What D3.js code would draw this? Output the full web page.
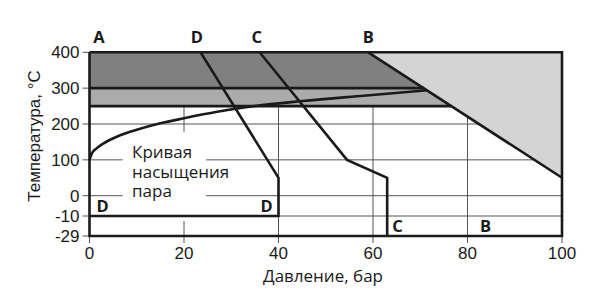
<!DOCTYPE html>
<html>
<head>
<meta charset="utf-8">
<script src="https://cdn.jsdelivr.net/npm/d3@7"></script>
<style>
  body { margin: 0; background: #fff; }
  svg { display: block; }
  .tick-label { font-family: "Liberation Sans", Arial, sans-serif; font-size: 17px; fill: #1a1a1a; }
  .axis-title { font-family: "Open Sans", sans-serif; font-size: 17px; fill: #1a1a1a; }
  .zone-label { font-family: "Open Sans", sans-serif; font-size: 16.5px; font-weight: 700; fill: #1a1a1a; }
  .note { font-family: "Open Sans", sans-serif; font-size: 17px; fill: #1a1a1a; }
</style>
</head>
<body>
<svg id="chart" width="600" height="298"></svg>
<script>
/* Tick values */
var xTicks = [0, 20, 40, 60, 80, 100];
var yTicks = [-29, -10, 0, 100, 200, 300, 400];

/* Boundary lines, pressure (bar) and temperature (C) */
var lineB_p = [59, 100];
var lineB_t = [400, 50];
var lineC_p = [36, 54.5, 63, 63];
var lineC_t = [400, 100, 50, -29];
var lineD_p = [23.5, 40, 40, 0];
var lineD_t = [400, 50, -10, -10];

/* Saturated steam curve */
var satP = [0, 0.5, 1.5, 3, 6, 10, 15, 20, 27, 35, 45, 58, 71.5];
var satT = [100, 118, 132, 146, 166, 184, 202, 216, 234, 250, 264, 279, 294];

/* Zone labels, placed in data units */
var zoneNames = ["A", "D", "C", "B", "D", "D", "C", "B"];
var zoneP = [2, 22.7, 35.4, 59, 2.8, 37.5, 65.2, 83.8];
var zoneT = [400, 400, 400, 400, -10, -10, -29, -29];

var noteLines = ["Кривая", "насыщения", "пара"];

var svg = d3.select("#chart");

var x = d3.scaleLinear().domain([0, 100]).range([89.5, 562]);
// the temperature axis is stretched below zero
var y = d3.scaleLinear().domain([-29, -10, 0, 400]).range([236, 216, 195.7, 52.3]);

function pts(ps, ts) {
    return ps.map(function(p, i) { return [p, ts[i]]; });
}
var line = d3.line()
    .x(function(d) { return x(d[0]); })
    .y(function(d) { return y(d[1]); });

// where line B crosses a given temperature
function bAt(t) {
    return lineB_p[0] + (lineB_t[0] - t) * (lineB_p[1] - lineB_p[0]) / (lineB_t[0] - lineB_t[1]);
}

/* Grid */
var grid = svg.append("g").attr("stroke", "#555").attr("stroke-width", 1);
[200, 100, 0, -10].forEach(function(t) {
    grid.append("line")
        .attr("x1", x(0) - 7).attr("x2", x(100))
        .attr("y1", y(t)).attr("y2", y(t));
});
xTicks.slice(1, 5).forEach(function(p) {
    grid.append("line")
        .attr("x1", x(p)).attr("x2", x(p))
        .attr("y1", y(250)).attr("y2", y(-29) + 7);
});
[400, 300, -29].forEach(function(t) {
    grid.append("line")
        .attr("x1", x(0) - 7).attr("x2", x(0))
        .attr("y1", y(t)).attr("y2", y(t));
});
[0, 100].forEach(function(p) {
    grid.append("line")
        .attr("x1", x(p)).attr("x2", x(p))
        .attr("y1", y(-29)).attr("y2", y(-29) + 7);
});

/* Shaded zones */
svg.append("path")
    .attr("d", line([[0, 300], [0, 400], [lineB_p[0], 400], [bAt(300), 300]]) + "Z")
    .attr("fill", "#808080");
svg.append("path")
    .attr("d", line([[0, 250], [0, 300], [bAt(300), 300], [bAt(250), 250]]) + "Z")
    .attr("fill", "#ababab");
svg.append("path")
    .attr("d", line([[lineB_p[0], 400], [100, 400], [100, lineB_t[1]]]) + "Z")
    .attr("fill", "#d4d4d4");

/* Label box for the curve */
svg.append("rect")
    .attr("x", x(7)).attr("y", y(178))
    .attr("width", x(24.7) - x(7)).attr("height", y(-15) - y(178))
    .attr("fill", "#fff");
var note = svg.append("text")
    .attr("class", "note")
    .attr("x", x(9)).attr("y", 158);
noteLines.forEach(function(s, i) {
    note.append("tspan")
        .attr("x", x(9))
        .attr("dy", i == 0 ? 0 : 19.5)
        .text(s);
});

/* Heavy lines */
var heavy = svg.append("g")
    .attr("fill", "none")
    .attr("stroke", "#1a1a1a")
    .attr("stroke-width", 2.6)
    .attr("stroke-linejoin", "miter");
heavy.append("path").attr("d", line(pts([0, 100, 100, 0, 0], [400, 400, -29, -29, 400])));
heavy.append("path").attr("d", line([[0, 300], [bAt(300), 300]]));
heavy.append("path").attr("d", line([[0, 250], [bAt(250), 250]]));
heavy.append("path").attr("d", line(pts(lineB_p, lineB_t)));
heavy.append("path").attr("d", line(pts(lineC_p, lineC_t)));
heavy.append("path").attr("d", line(pts(lineD_p, lineD_t)));
heavy.append("path")
    .attr("d", d3.line().curve(d3.curveMonotoneX)
        .x(function(d) { return x(d[0]); })
        .y(function(d) { return y(d[1]); })(pts(satP, satT)));

/* Zone letters */
zoneNames.forEach(function(n, i) {
    svg.append("text")
        .attr("class", "zone-label")
        .attr("text-anchor", "middle")
        .attr("x", x(zoneP[i]))
        .attr("y", zoneT[i] == 400 ? y(400) - 9 : y(zoneT[i]) - 4)
        .text(n);
});

/* Tick labels */
yTicks.forEach(function(t) {
    svg.append("text")
        .attr("class", "tick-label")
        .attr("text-anchor", "end")
        .attr("x", x(0) - 10)
        .attr("y", y(t))
        .attr("dy", "0.36em")
        .text(t);
});
xTicks.forEach(function(p) {
    svg.append("text")
        .attr("class", "tick-label")
        .attr("text-anchor", "middle")
        .attr("x", x(p))
        .attr("y", 259)
        .text(p);
});

/* Axis titles */
svg.append("text")
    .attr("class", "axis-title")
    .attr("text-anchor", "middle")
    .attr("x", 323).attr("y", 282)
    .text("Давление, бар");
svg.append("text")
    .attr("class", "axis-title")
    .attr("text-anchor", "middle")
    .attr("transform", "translate(40,136) rotate(-90)")
    .style("font-family", "'Liberation Sans', Arial, sans-serif")
    .style("font-size", "17px")
    .text("Температура, °C");
</script>
</body>
</html>
